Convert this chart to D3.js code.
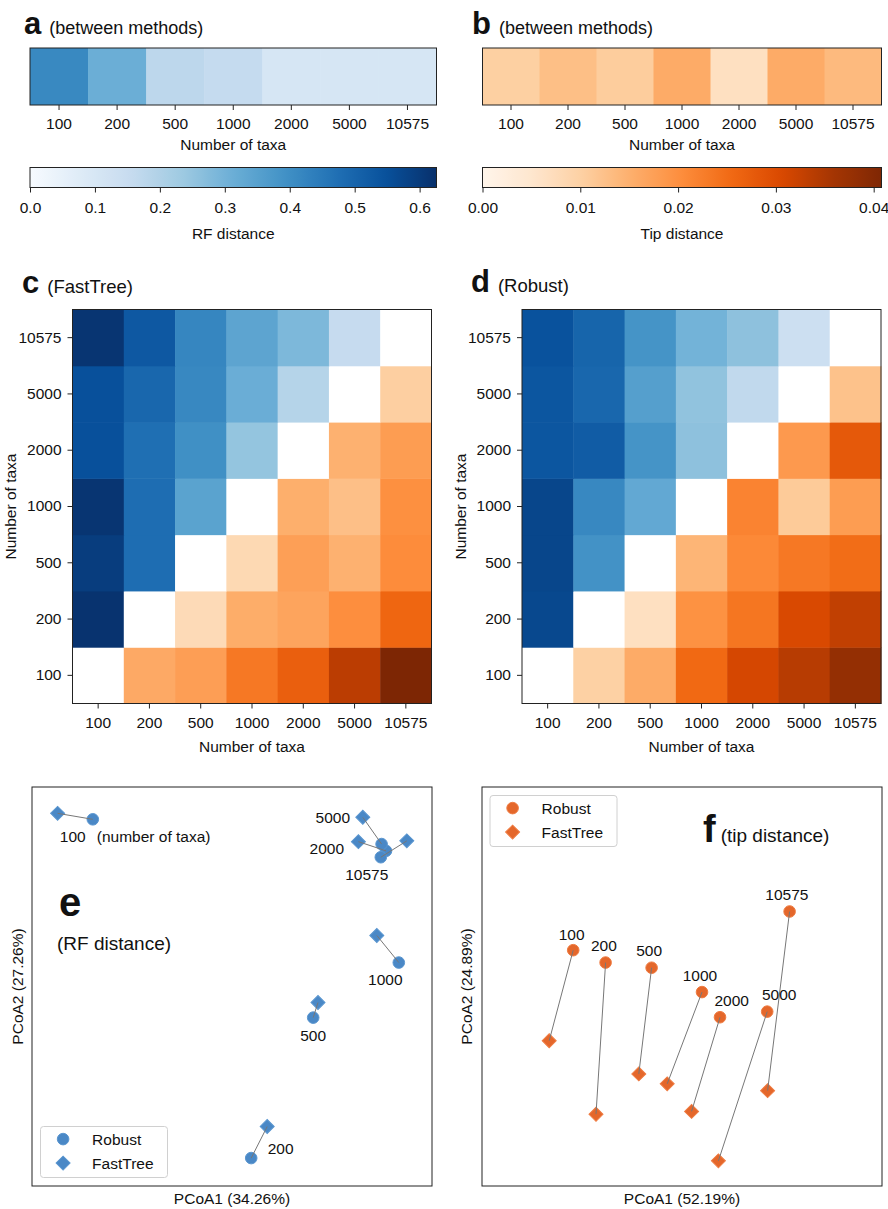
<!DOCTYPE html>
<html>
<head>
<meta charset="utf-8">
<script src="https://cdn.jsdelivr.net/npm/d3@7"></script>
<style>
  body { margin: 0; background: #fff; }
  text { font-family: "Liberation Sans", Arial, Helvetica, sans-serif; fill: #111; }
</style>
</head>
<body>
<svg id="fig" width="888" height="1209"></svg>
<script>
var taxa = ['100', '200', '500', '1000', '2000', '5000', '10575'];

// a, b: distance between the two methods for each number of taxa
var rfBetween  = [0.413, 0.313, 0.174, 0.158, 0.104, 0.105, 0.103];
var tipBetween = [0.0102, 0.0128, 0.0107, 0.0157, 0.0066, 0.0157, 0.0135];

var rfMax = 0.626, tipMax = 0.0408;
var rfTicks  = [0, 0.1, 0.2, 0.3, 0.4, 0.5, 0.6];
var tipTicks = [0, 0.01, 0.02, 0.03, 0.04];

// c, d: pairwise distances, lower triangle, m[i][j] with j < i
var rfFastTree = [
  [],
  [0.62],
  [0.595, 0.48],
  [0.615, 0.48, 0.345],
  [0.55, 0.475, 0.395, 0.25],
  [0.55, 0.495, 0.415, 0.315, 0.19],
  [0.615, 0.53, 0.42, 0.34, 0.285, 0.155]
];
var tipFastTree = [
  [],
  [0.016],
  [0.0177, 0.0078],
  [0.0234, 0.0155, 0.0082],
  [0.027, 0.0168, 0.0176, 0.0152],
  [0.0336, 0.0202, 0.0148, 0.0127, 0.0148],
  [0.041, 0.026, 0.0205, 0.020, 0.018, 0.0103]
];
var rfRobust = [
  [],
  [0.57],
  [0.575, 0.39],
  [0.575, 0.415, 0.33],
  [0.535, 0.52, 0.385, 0.26],
  [0.535, 0.495, 0.355, 0.255, 0.167],
  [0.545, 0.50, 0.385, 0.30, 0.26, 0.137]
];
var tipRobust = [
  [],
  [0.010],
  [0.0157, 0.0066],
  [0.0255, 0.0197, 0.0143],
  [0.031, 0.0237, 0.021, 0.0218],
  [0.034, 0.0305, 0.0234, 0.011, 0.0185],
  [0.038, 0.033, 0.025, 0.018, 0.028, 0.0123]
];

// e, f: PCoA coordinates [PCoA1, PCoA2] per number of taxa
var pcoaRfRobust   = [[-0.348, 0.419], [0.048, -0.430], [0.203, -0.078], [0.417, 0.060], [0.385, 0.340], [0.374, 0.357], [0.372, 0.324]];
var pcoaRfFastTree = [[-0.436, 0.434], [0.088, -0.351], [0.215, -0.040], [0.362, 0.128], [0.316, 0.363], [0.327, 0.424], [0.437, 0.365]];
var pcoaTipRobust   = [[-0.272, 0.091], [-0.191, 0.060], [-0.076, 0.047], [0.050, -0.014], [0.095, -0.077], [0.213, -0.063], [0.269, 0.188]];
var pcoaTipFastTree = [[-0.332, -0.136], [-0.215, -0.320], [-0.108, -0.219], [-0.037, -0.244], [0.024, -0.313], [0.091, -0.437], [0.214, -0.261]];

var FS = 15.5;
var svg = d3.select('#fig');

// matplotlib style colormaps: linear through the 9 brewer colours
var rfColor  = d3.scaleSequential(d3.piecewise(d3.interpolateRgb, d3.schemeBlues[9])).domain([0, rfMax]);
var tipColor = d3.scaleSequential(d3.piecewise(d3.interpolateRgb, d3.schemeOranges[9])).domain([0, tipMax]);

var styleAxis = function (g) {
  g.select('.domain').remove();
  g.selectAll('.tick line').attr('stroke', '#222').attr('stroke-width', 1);
  g.selectAll('.tick text').attr('font-size', FS).attr('fill', '#111');
};

var frame = function (x, y, w, h) {
  svg.append('rect')
    .attr('x', x).attr('y', y).attr('width', w).attr('height', h)
    .attr('fill', 'none').attr('stroke', '#222').attr('stroke-width', 1);
};

var title = function (x, y, letter, sub, size, subSize) {
  var t = svg.append('text').attr('x', x).attr('y', y);
  t.append('tspan').attr('font-weight', 'bold').attr('font-size', size).text(letter);
  t.append('tspan').attr('dx', 8).attr('font-size', subSize || 18).text(sub);
};

// ---- a, b strips ----
var strip = function (x0, x1, values, color) {
  var y0 = 48, y1 = 105;
  var x = d3.scaleBand().domain(taxa).range([x0, x1]);
  svg.append('g').selectAll('rect').data(values).enter().append('rect')
    .attr('x', function (d, i) { return x(taxa[i]); })
    .attr('y', y0)
    .attr('width', x.bandwidth() + 0.5)
    .attr('height', y1 - y0)
    .attr('fill', function (d) { return color(d); });
  frame(x0, y0, x1 - x0, y1 - y0);
  svg.append('g').attr('transform', 'translate(0,' + y1 + ')')
    .call(d3.axisBottom(x).tickSize(5).tickPadding(8))
    .call(styleAxis);
  svg.append('text').attr('x', (x0 + x1) / 2).attr('y', 150)
    .attr('text-anchor', 'middle').attr('font-size', FS).text('Number of taxa');
};
strip(30, 436.5, rfBetween, rfColor);
strip(482.5, 881.5, tipBetween, tipColor);
title(24, 34, 'a', '(between methods)', 31);
title(472, 34, 'b', '(between methods)', 31);

// ---- colorbars ----
var colorbar = function (id, x0, x1, color, ticks, fmt, label) {
  var y0 = 167.5, y1 = 187.5;
  var x = d3.scaleLinear().domain(color.domain()).range([x0, x1]);
  var grad = svg.append('defs').append('linearGradient').attr('id', id);
  d3.range(0, 1.0001, 0.02).forEach(function (t) {
    grad.append('stop').attr('offset', t).attr('stop-color', color(color.domain()[1] * t));
  });
  svg.append('rect').attr('x', x0).attr('y', y0).attr('width', x1 - x0).attr('height', y1 - y0)
    .attr('fill', 'url(#' + id + ')');
  frame(x0, y0, x1 - x0, y1 - y0);
  svg.append('g').attr('transform', 'translate(0,' + y1 + ')')
    .call(d3.axisBottom(x).tickValues(ticks).tickFormat(d3.format(fmt)).tickSize(5).tickPadding(9))
    .call(styleAxis);
  svg.append('text').attr('x', (x0 + x1) / 2).attr('y', 239)
    .attr('text-anchor', 'middle').attr('font-size', FS).text(label);
};
colorbar('gradRF', 30, 436.5, rfColor, rfTicks, '.1f', 'RF distance');
colorbar('gradTip', 482.5, 881.5, tipColor, tipTicks, '.2f', 'Tip distance');

// ---- c, d heatmaps ----
var heatmap = function (x0, x1, yLabelX, rf, tip) {
  var y0 = 309.5, y1 = 703.5;
  var x = d3.scaleBand().domain(taxa).range([x0, x1]);
  var y = d3.scaleBand().domain(taxa.slice().reverse()).range([y0, y1]);
  var cells = [];
  taxa.forEach(function (rowT, i) {
    taxa.forEach(function (colT, j) {
      var fill = '#fff';
      if (j < i) { fill = rfColor(rf[i][j]); }
      if (j > i) { fill = tipColor(tip[j][i]); }
      cells.push({ row: rowT, col: colT, fill: fill });
    });
  });
  svg.append('g').selectAll('rect').data(cells).enter().append('rect')
    .attr('x', function (d) { return x(d.col); })
    .attr('y', function (d) { return y(d.row); })
    .attr('width', x.bandwidth() + 0.5)
    .attr('height', y.bandwidth() + 0.5)
    .attr('fill', function (d) { return d.fill; });
  frame(x0, y0, x1 - x0, y1 - y0);
  svg.append('g').attr('transform', 'translate(0,' + y1 + ')')
    .call(d3.axisBottom(x).tickSize(5).tickPadding(8))
    .call(styleAxis);
  svg.append('g').attr('transform', 'translate(' + x0 + ',0)')
    .call(d3.axisLeft(y).tickSize(5).tickPadding(6))
    .call(styleAxis);
  svg.append('text').attr('x', (x0 + x1) / 2).attr('y', 751.5)
    .attr('text-anchor', 'middle').attr('font-size', FS).text('Number of taxa');
  svg.append('text')
    .attr('transform', 'translate(' + yLabelX + ',' + ((y0 + y1) / 2) + ') rotate(-90)')
    .attr('text-anchor', 'middle').attr('font-size', FS).text('Number of taxa');
};
heatmap(72.5, 431.5, 16, rfFastTree, tipFastTree);
heatmap(522, 881, 466, rfRobust, tipRobust);
title(22, 293, 'c', '(FastTree)', 31, 18.5);
title(471, 292, 'd', '(Robust)', 31, 18.5);

// ---- e, f PCoA ----
var circleSym = d3.symbol().type(d3.symbolCircle).size(Math.PI * 5.8 * 5.8);
var diamondSym = d3.symbol().type(d3.symbolSquare).size(2 * 7 * 7);

var legend = function (bx, by, fill, edge) {
  svg.append('rect').attr('x', bx).attr('y', by).attr('width', 127).attr('height', 51)
    .attr('rx', 3).attr('fill', '#fff').attr('fill-opacity', 0.8)
    .attr('stroke', '#d0d0d0').attr('stroke-width', 1);
  [['Robust', circleSym, 0], ['FastTree', diamondSym, 45]].forEach(function (e, k) {
    var cy = by + 12.6 + k * 24;
    svg.append('path').attr('d', e[1]())
      .attr('transform', 'translate(' + (bx + 22.6) + ',' + cy + ') rotate(' + e[2] + ')')
      .attr('fill', fill).attr('stroke', edge).attr('stroke-width', 1);
    svg.append('text').attr('x', bx + 51.6).attr('y', cy + 5.5)
      .attr('font-size', FS).text(e[0]);
  });
};

var pcoa = function (opt) {
  var x = d3.scaleLinear().domain([-0.5, 0.5]).range([opt.x0, opt.x0 + 400]);
  var y = d3.scaleLinear().domain([-0.5, 0.5]).range([1186, 787]);
  var g = svg.append('g');
  g.selectAll('path.rob').data(opt.robust).enter().append('path')
    .attr('d', circleSym())
    .attr('transform', function (d) { return 'translate(' + x(d[0]) + ',' + y(d[1]) + ')'; })
    .attr('fill', opt.fill).attr('stroke', opt.edge).attr('stroke-width', 1);
  g.selectAll('path.ft').data(opt.fastTree).enter().append('path')
    .attr('d', diamondSym())
    .attr('transform', function (d) { return 'translate(' + x(d[0]) + ',' + y(d[1]) + ') rotate(45)'; })
    .attr('fill', opt.fill).attr('stroke', opt.edge).attr('stroke-width', 1);
  g.selectAll('line').data(opt.robust).enter().append('line')
    .attr('x1', function (d) { return x(d[0]); })
    .attr('y1', function (d) { return y(d[1]); })
    .attr('x2', function (d, i) { return x(opt.fastTree[i][0]); })
    .attr('y2', function (d, i) { return y(opt.fastTree[i][1]); })
    .attr('stroke', '#777').attr('stroke-width', 1);
  g.selectAll('text.lab').data(opt.robust).enter().append('text')
    .attr('x', function (d, i) { return x(d[0]) + opt.labels[i][1]; })
    .attr('y', function (d, i) { return y(d[1]) + opt.labels[i][2]; })
    .attr('text-anchor', function (d, i) { return opt.labels[i][0]; })
    .attr('font-size', FS)
    .text(function (d, i) { return taxa[i]; });
  frame(opt.x0, 787, 400, 399);
  svg.append('text').attr('x', opt.x0 + 200).attr('y', 1204)
    .attr('text-anchor', 'middle').attr('font-size', FS).text(opt.xLabel);
  svg.append('text')
    .attr('transform', 'translate(' + opt.yLabelX + ',986.5) rotate(-90)')
    .attr('text-anchor', 'middle').attr('font-size', FS).text(opt.yLabel);
  return { x: x, y: y };
};

// label placement relative to the Robust point: [anchor, dx, dy]
var labelsE = [['middle', -20, 23], ['start', 16.5, -4.5], ['middle', 0, 23.5], ['middle', -13.5, 22.8],
  ['end', -42, 3], ['end', -31.5, -21.5], ['middle', -14, 23.2]];
var labelsF = [['middle', -1.6, -10.5], ['middle', -1.7, -11.5], ['middle', -2.4, -11.5], ['middle', -2, -10.8],
  ['middle', 11.7, -11.1], ['middle', 12, -11.5], ['middle', -2.7, -11.1]];

var e = pcoa({
  x0: 32, robust: pcoaRfRobust, fastTree: pcoaRfFastTree, labels: labelsE,
  fill: '#4a88c6', edge: '#5a96d0', xLabel: 'PCoA1 (34.26%)', yLabel: 'PCoA2 (27.26%)', yLabelX: 23
});
svg.append('text').attr('x', e.x(pcoaRfRobust[0][0]) + 4).attr('y', e.y(pcoaRfRobust[0][1]) + 23)
  .attr('font-size', FS).text('(number of taxa)');
svg.append('text').attr('x', 59).attr('y', 915.5)
  .attr('font-size', 40).attr('font-weight', 'bold').text('e');
svg.append('text').attr('x', 57).attr('y', 949.5)
  .attr('font-size', 19).text('(RF distance)');
legend(40.5, 1126.5, '#4a88c6', '#5a96d0');

pcoa({
  x0: 482, robust: pcoaTipRobust, fastTree: pcoaTipFastTree, labels: labelsF,
  fill: '#e4672b', edge: '#ef7c42', xLabel: 'PCoA1 (52.19%)', yLabel: 'PCoA2 (24.89%)', yLabelX: 472
});
var ft = svg.append('text').attr('x', 703).attr('y', 841.5);
ft.append('tspan').attr('font-size', 38).attr('font-weight', 'bold').text('f');
ft.append('tspan').attr('dx', 5).attr('font-size', 19).text('(tip distance)');
legend(490, 795.5, '#e4672b', '#ef7c42');
</script>
</body>
</html>
